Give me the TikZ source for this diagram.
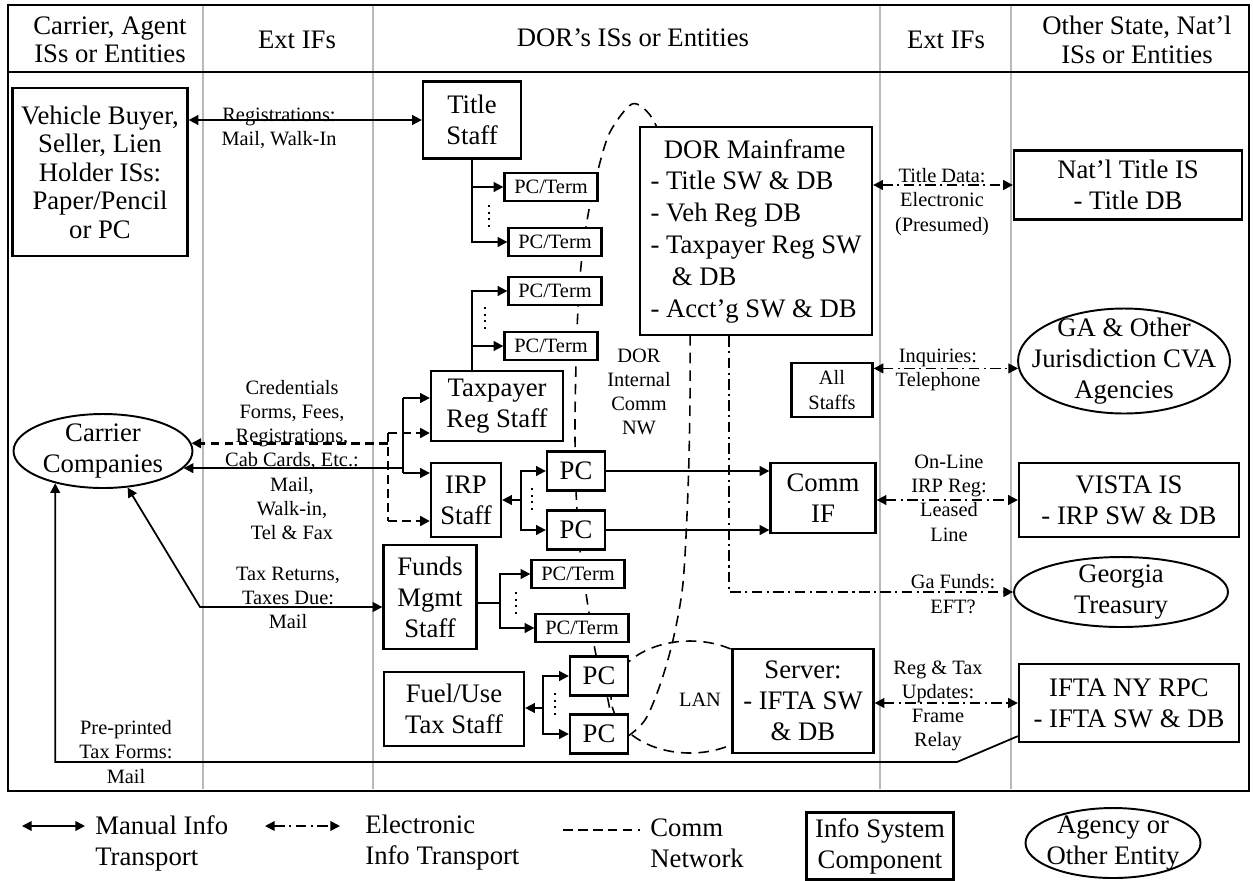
\documentclass[tikz,border=0pt]{standalone}
\usepackage{fontspec}
\setmainfont{Liberation Serif}
\usetikzlibrary{arrows.meta,shapes.geometric,calc}
\newcommand{\bigtxt}{\fontsize{15.2}{17.6}\selectfont}
\newcommand{\smalltxt}{\fontsize{11.6}{13.8}\selectfont}
\begin{document}
\begin{tikzpicture}[x=0.02cm,y=-0.02cm,>={Triangle[length=5.5pt,width=5.5pt]},
  isbox/.style={draw,line width=1.3pt,fill=white,inner sep=1pt,align=center,font=\bigtxt},
  pcterm/.style={isbox,font=\smalltxt,minimum width=1.86cm,minimum height=0.56cm},
  pcbox/.style={isbox,minimum width=1.16cm,minimum height=0.78cm},
  entity/.style={draw,ellipse,line width=1.1pt,fill=white,inner sep=0pt},
  lbl/.style={align=center,font=\smalltxt,inner sep=0pt},
  txt/.style={align=center,font=\bigtxt,inner sep=0pt},
  manual/.style={line width=1pt},
  elec/.style={line width=1pt,dash pattern=on 6pt off 2.5pt on 1.2pt off 2.5pt},
  elecb/.style={line width=1.5pt,dash pattern=on 5pt off 3pt},
  commnet/.style={line width=0.9pt,dash pattern=on 6pt off 4pt},
  dotline/.style={line width=0.9pt,dash pattern=on 1.2pt off 2.6pt},
  colline/.style={gray!55,line width=1pt}]
\useasboundingbox (0,0) rectangle (1253,880);
\foreach \x in {203,373,880,1011}{\draw[colline] (\x,5) -- (\x,789);}
\draw[line width=1.3pt] (8,5) rectangle (1249,791); \draw[line width=1.3pt] (8,72) -- (1249,72);
\node[txt,font={\fontsize{15.2}{16.2}\selectfont}] (h1) at (110,40) {Carrier, Agent\\ISs or Entities};
\node[txt] (h2) at (297,40) {Ext IFs}; \node[txt] (h3) at (633,38) {DOR's ISs or Entities};
\node[txt] (h4) at (946,40) {Ext IFs};
\node[txt,font={\fontsize{15.2}{16.2}\selectfont}] (h5) at (1137,40) {Other State, Nat'l\\ISs or Entities};
\draw[commnet] plot[smooth] coordinates {(612,725) (608,700) (596,655) (587,600) (580,550) (576,490) (575,420) (577,330) (581,266) (588,215) (598,170) (610,132) (632,104) (650,115) (665,145)};
\draw[commnet] plot[smooth] coordinates {(690,300) (690,400) (688,490) (683,583) (673,640) (660,685) (645,720) (625,738) (610,740)};
\draw[commnet] (690,697) ellipse [x radius=79,y radius=56];
\node[isbox,minimum width=3.5cm,minimum height=3.36cm,font={\fontsize{15.2}{16.2}\selectfont}] (vehbuy) at (100,172) {Vehicle Buyer,\\Seller, Lien\\Holder ISs:\\Paper/Pencil\\or PC};
\node[isbox,minimum width=1.96cm,minimum height=1.54cm] (titlestaff) at (472,120) {Title\\Staff};
\node[pcterm] (pct1) at (551,187) {PC/Term}; \node[pcterm] (pct2) at (555,242) {PC/Term};
\node[pcterm] (pct3) at (555,291) {PC/Term}; \node[pcterm] (pct4) at (551,346) {PC/Term};
\node[isbox,minimum width=2.64cm,minimum height=1.4cm] (taxreg) at (497,406) {Taxpayer\\Reg Staff};
\node[isbox,minimum width=1.4cm,minimum height=1.48cm] (irp) at (466,500) {IRP\\Staff};
\node[pcbox] (pc1) at (576,471) {PC}; \node[pcbox] (pc2) at (576,530) {PC};
\node[isbox,minimum width=2.1cm,minimum height=1.4cm] (commif) at (823,498) {Comm\\IF};
\node[isbox,minimum width=1.86cm,minimum height=2.08cm] (funds) at (430,597) {Funds\\Mgmt\\Staff};
\node[pcterm] (pct5) at (578,574) {PC/Term}; \node[pcterm] (pct6) at (582,628) {PC/Term};
\node[isbox,minimum width=2.8cm,minimum height=1.48cm] (fuel) at (454,709) {Fuel/Use\\Tax Staff};
\node[pcbox] (pc3) at (599,676) {PC}; \node[pcbox] (pc4) at (599,734) {PC};
\node[isbox,minimum width=2.82cm,minimum height=2.08cm] (server) at (803,701) {Server:\\- IFTA SW\\\& DB};
\node[isbox,minimum width=4.64cm,minimum height=4.16cm,align=left,font={\fontsize{15.2}{18.1}\selectfont}] (mainframe) at (756,231) {\hspace*{0.5em}DOR Mainframe\\- Title SW \& DB\\- Veh Reg DB\\- Taxpayer Reg SW\\\hspace*{0.8em}\& DB\\- Acct'g SW \& DB};
\node[isbox,font=\smalltxt,minimum width=1.62cm,minimum height=1.08cm] (allstaffs) at (832,390) {All\\Staffs};
\node[isbox,minimum width=4.56cm,minimum height=1.38cm] (natl) at (1128,185) {Nat'l Title IS\\- Title DB};
\node[entity,minimum width=4.24cm,minimum height=2.1cm] (gaother) at (1124,361) {};
\node[txt,font={\fontsize{15.2}{17.8}\selectfont}] (gaotherT) at (gaother) {GA \& Other\\Jurisdiction CVA\\Agencies};
\node[isbox,minimum width=4.4cm,minimum height=1.48cm] (vista) at (1129,500) {VISTA IS\\- IRP SW \& DB};
\node[entity,minimum width=4.28cm,minimum height=1.4cm] (gatreas) at (1121,592) {};
\node[txt] (gatreasT) at (gatreas) {Georgia\\Treasury};
\node[isbox,minimum width=4.4cm,minimum height=1.56cm] (iftany) at (1129,703) {IFTA NY RPC\\- IFTA SW \& DB};
\node[entity,minimum width=3.58cm,minimum height=1.48cm] (carrier) at (103,451) {};
\node[txt] (carrierT) at (carrier) {Carrier\\Companies};
\foreach \x/\a/\b in {489/205/230,485/307/332,532/488/513,516/592/617,555/693/718}{\draw[dotline] (\x,\a) -- (\x,\b);}
\draw[manual,<->] (vehbuy.east |- titlestaff.west) -- (titlestaff.west);
\draw[manual,->] (titlestaff.south) |- (pct2.west); \draw[manual,->] (titlestaff.south |- pct1.west) -- (pct1.west);
\draw[manual,->] (titlestaff.south |- taxreg.north) |- (pct3.west); \draw[manual,->] (titlestaff.south |- pct4.west) -- (pct4.west);
\coordinate (irpj) at (521,500);
\draw[manual,<-] (irp.east) -- (irpj); \draw[manual,->] (irpj) |- (pc1.west); \draw[manual,->] (irpj) |- (pc2.west);
\draw[manual,->] (pc1.east) -- (pc1.east -| commif.west); \draw[manual,->] (pc2.east) -- (pc2.east -| commif.west);
\coordinate (fundsj) at (500,603);
\draw[manual] (funds.east |- fundsj) -- (fundsj); \draw[manual,->] (fundsj) |- (pct5.west); \draw[manual,->] (fundsj) |- (pct6.west);
\coordinate (fuelj) at (543,708);
\draw[manual,<-] (fuel.east |- fuelj) -- (fuelj); \draw[manual,->] (fuelj) |- (pc3.west); \draw[manual,->] (fuelj) |- (pc4.west);
\coordinate (cm1) at (403,398); \coordinate (cm2) at (403,473);
\draw[manual] (cm1) -- (cm2); \draw[manual,->] (cm1) -- (cm1 -| taxreg.west); \draw[manual,->] (cm2) -- (cm2 -| irp.west);
\draw[manual,->] (cm1 |- carrier.-12) -- (carrier.-12);
\coordinate (ce1) at (388,433); \coordinate (ce2) at (388,521);
\draw[elecb] (ce1) -- (ce2); \draw[elecb,->] (ce1) -- (ce1 -| taxreg.west); \draw[elecb,->] (ce2) -- (ce2 -| irp.west);
\draw[elecb,->] (ce1 |- carrier.5) -- (carrier.5);
\coordinate (trk) at (200,607);
\draw[manual,<->] (carrier.-56) -- (trk) -- (trk -| funds.west);
\coordinate (ppk) at (957,762);
\draw[manual,->] ($(iftany.south west)+(0,-7)$) -- (ppk) -- (ppk -| carrier.-146) -- (carrier.-146);
\draw[elec,<->] (mainframe.east |- natl.west) -- (natl.west);
\draw[elec,<->] (allstaffs.east |- gaother.184) -- (gaother.184);
\draw[elec,<->] (commif.east |- vista.west) -- (vista.west);
\draw[elec,<->] (server.east |- iftany.west) -- (iftany.west);
\coordinate (gfx) at (729,0); \draw[elec,->] (mainframe.south -| gfx) |- (gatreas.west);
\node[lbl] (regl) at (279,128) {Registrations:\\Mail, Walk-In};
\node[lbl] (credl) at (292,460) {Credentials\\Forms, Fees,\\Registrations,\\Cab Cards, Etc.:\\Mail,\\Walk-in,\\Tel \& Fax};
\node[lbl] (taxl) at (288,598) {Tax Returns,\\Taxes Due:\\Mail};
\node[lbl] (prel) at (126,752) {Pre-printed\\Tax Forms:\\Mail};
\node[lbl] (titlel) at (942,202) {Title Data:\\Electronic\\(Presumed)};
\node[lbl] (inql) at (938,370) {Inquiries:\\Telephone};
\node[lbl] (onl) at (949,498) {On-Line\\IRP Reg:\\Leased\\Line};
\node[lbl] (gafl) at (953,594) {Ga Funds:\\EFT?};
\node[lbl] (regtl) at (938,706) {Reg \& Tax\\Updates:\\Frame\\Relay};
\node[lbl] (netl) at (639,392) {DOR\\Internal\\Comm\\NW}; \node[lbl] (lanl) at (700,700) {LAN};
\coordinate (lm1) at (22,826); \coordinate (lm2) at (85,826); \draw[manual,<->] (lm1) -- (lm2);
\node[txt,align=left,anchor=west] (lmt) at (95,843) {Manual Info\\Transport};
\coordinate (le1) at (265,826); \coordinate (le2) at (340,826); \draw[elec,<->] (le1) -- (le2);
\node[txt,align=left,anchor=west] (let) at (365,843) {Electronic\\Info Transport};
\coordinate (lc1) at (563,830); \coordinate (lc2) at (640,830); \draw[line width=0.9pt,dash pattern=on 5.5pt off 3pt] (lc1) -- (lc2);
\node[txt,align=left,anchor=west] (lct) at (650,843) {Comm\\Network};
\node[isbox,minimum width=2.94cm,minimum height=1.34cm] (lbox) at (880,846) {Info System\\Component};
\node[entity,minimum width=3.5cm,minimum height=1.4cm] (lent) at (1113,843) {};
\node[txt] (lentT) at (lent) {Agency or\\Other Entity};
\end{tikzpicture}
\end{document}
